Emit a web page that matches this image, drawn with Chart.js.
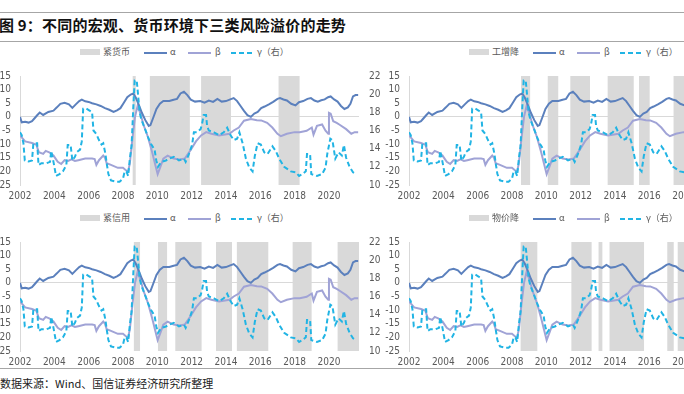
<!DOCTYPE html>
<html><head><meta charset="utf-8">
<script src="https://cdn.jsdelivr.net/npm/chart.js@4.4.1/dist/chart.umd.min.js"></script>
<style>
html,body{margin:0;padding:0;background:#fff;}
body{width:684px;height:394px;overflow:hidden;position:relative;font-family:"Noto Sans CJK SC","Noto Sans",sans-serif;}
.rule{position:absolute;left:0;width:684px;height:1px;background:#a6a6a6;}
#title{position:absolute;left:-1px;top:14px;font-size:15px;font-weight:bold;color:#111;white-space:nowrap;letter-spacing:0.2px;}
#foot{position:absolute;left:0;top:375px;font-size:11px;color:#222;white-space:nowrap;}
canvas{position:absolute;}
.lg{position:absolute;font-size:9px;color:#595959;white-space:nowrap;line-height:10px;}
.box{position:absolute;width:20px;height:6px;background:#d9d9d9;}
svg{position:absolute;overflow:visible;}
</style></head><body>
<div class="rule" style="top:12px"></div>
<div id="title">图 9：不同的宏观、货币环境下三类风险溢价的走势</div>
<div class="rule" style="top:41px"></div>
<div class="rule" style="top:368px"></div>
<div id="foot">数据来源：Wind、国信证券经济研究所整理</div>
<script>
// ---- tick labels ----
const xYears = [2002,2004,2006,2008,2010,2012,2014,2016,2018,2020];
const leftTicks = [15,10,5,0,-5,-10,-15,-20,-25];
const rightTicks = [22,20,18,16,14,12,10];

// ---- series: [year, value] ----
const alphaData = [[2002.0,0],[2002.1,-2.0],[2002.3,-1.8],[2002.5,-2.1],[2002.7,-1.6],[2002.85,-0.5],[2003.0,0.6],[2003.15,1.6],[2003.35,0.7],[2003.65,1.8],[2003.95,2.3],[2004.15,3.5],[2004.35,4.8],[2004.6,5.2],[2004.85,4.6],[2005.05,3.3],[2005.25,4.6],[2005.45,5.8],[2005.6,6.3],[2005.8,5.7],[2006.0,5.5],[2006.2,5.0],[2006.45,4.6],[2006.7,4.0],[2006.95,3.2],[2007.2,2.6],[2007.45,1.8],[2007.65,2.4],[2007.85,3.2],[2008.05,5.2],[2008.25,7.2],[2008.45,8.2],[2008.6,8.6],[2008.75,7.0],[2008.9,4.8],[2009.1,1.5],[2009.3,-1.2],[2009.5,-3.3],[2009.6,-3.0],[2009.75,-0.5],[2009.95,2.9],[2010.15,4.8],[2010.35,5.8],[2010.7,5.8],[2010.95,6.3],[2011.15,6.6],[2011.35,8.6],[2011.55,9.2],[2011.75,8.0],[2011.95,6.3],[2012.2,5.6],[2012.5,5.8],[2012.75,5.2],[2013.0,6.0],[2013.25,5.5],[2013.5,6.6],[2013.75,5.6],[2014.0,5.8],[2014.25,6.4],[2014.45,6.9],[2014.65,5.8],[2014.85,4.0],[2015.05,2.2],[2015.25,0.6],[2015.45,0.0],[2015.65,1.2],[2015.85,1.8],[2016.05,3.2],[2016.25,3.8],[2016.5,4.6],[2016.75,5.5],[2017.0,6.6],[2017.15,6.9],[2017.35,6.4],[2017.55,6.0],[2017.8,4.8],[2018.05,4.2],[2018.25,5.4],[2018.5,5.8],[2018.75,6.6],[2018.95,6.9],[2019.15,6.0],[2019.35,5.6],[2019.55,6.1],[2019.75,6.4],[2019.95,7.2],[2020.1,7.5],[2020.3,6.4],[2020.5,5.6],[2020.7,4.0],[2020.9,2.9],[2021.1,3.5],[2021.25,4.8],[2021.4,7.5],[2021.55,8.0],[2021.7,8.0]];

const betaData = [[2002.0,-6.8],[2002.1,-7.5],[2002.3,-9.0],[2002.7,-9.6],[2002.95,-10.2],[2003.1,-13.0],[2003.35,-13.6],[2003.5,-12.5],[2003.7,-13.0],[2003.95,-14.2],[2004.2,-16.5],[2004.4,-17.3],[2004.6,-15.9],[2004.8,-16.2],[2005.0,-15.6],[2005.2,-16.2],[2005.4,-15.9],[2005.8,-15.3],[2006.2,-15.3],[2006.35,-15.5],[2006.45,-17.6],[2006.6,-15.9],[2006.85,-14.2],[2006.95,-15.0],[2007.05,-17.0],[2007.3,-17.6],[2007.7,-18.7],[2008.0,-18.7],[2008.15,-19.5],[2008.3,-20.0],[2008.4,-17.0],[2008.55,-8.0],[2008.7,0.0],[2008.85,4.0],[2009.0,1.5],[2009.2,-3.0],[2009.45,-7.3],[2009.7,-13.0],[2009.9,-18.0],[2010.02,-21.0],[2010.2,-18.0],[2010.35,-15.3],[2010.6,-14.2],[2010.95,-15.3],[2011.3,-15.6],[2011.6,-15.3],[2011.8,-13.5],[2011.97,-11.9],[2012.25,-9.0],[2012.55,-6.8],[2012.85,-5.6],[2013.15,-6.2],[2013.6,-6.8],[2014.2,-6.2],[2014.45,-5.0],[2014.75,-3.9],[2015.05,-1.4],[2015.45,-0.8],[2015.8,-1.2],[2016.05,-1.3],[2016.4,-2.2],[2016.7,-3.9],[2017.0,-6.2],[2017.2,-7.1],[2017.55,-6.2],[2018.0,-5.6],[2018.3,-5.6],[2018.7,-5.1],[2019.0,-3.9],[2019.1,-6.5],[2019.3,-3.3],[2019.6,-2.8],[2019.8,-5.1],[2019.96,-6.2],[2020.0,1.5],[2020.1,1.2],[2020.25,-1.6],[2020.45,-2.2],[2020.6,-2.8],[2021.0,-4.5],[2021.3,-6.2],[2021.5,-5.6],[2021.7,-5.6]];

const gammaData = [[2002.0,15.8],[2002.1,15.5],[2002.2,14.6],[2002.28,12.7],[2002.5,12.6],[2002.7,12.7],[2002.78,14.6],[2003.0,14.6],[2003.08,12.2],[2003.25,12.4],[2003.55,12.4],[2003.75,12.55],[2003.82,13.75],[2003.95,12.55],[2004.1,11.0],[2004.3,11.2],[2004.5,11.5],[2004.7,12.2],[2004.78,14.4],[2004.95,14.4],[2005.05,12.7],[2005.2,13.1],[2005.3,13.6],[2005.5,13.9],[2005.6,14.8],[2005.68,18.4],[2005.87,18.4],[2006.05,18.2],[2006.2,18.0],[2006.28,16.0],[2006.45,15.6],[2006.6,14.95],[2006.75,14.45],[2006.85,14.6],[2006.98,13.4],[2007.05,12.4],[2007.15,11.2],[2007.3,10.5],[2007.6,10.35],[2007.8,10.35],[2008.0,10.7],[2008.1,11.5],[2008.2,11.5],[2008.3,11.0],[2008.4,12.9],[2008.5,14.3],[2008.6,18.5],[2008.68,21.5],[2008.8,21.5],[2008.87,20.1],[2008.97,18.0],[2009.07,17.2],[2009.26,16.3],[2009.45,15.3],[2009.65,14.45],[2009.84,13.9],[2009.94,12.7],[2010.04,12.0],[2010.23,12.55],[2010.5,12.7],[2010.7,12.9],[2010.96,13.1],[2011.26,12.7],[2011.55,12.9],[2011.65,12.55],[2011.84,13.4],[2012.03,14.45],[2012.13,15.8],[2012.32,15.8],[2012.52,16.15],[2012.6,16.65],[2012.7,17.7],[2012.84,17.7],[2012.9,16.5],[2013.0,16.0],[2013.3,15.8],[2013.6,15.5],[2013.87,15.8],[2014.07,16.3],[2014.26,15.5],[2014.45,14.95],[2014.65,15.1],[2014.78,15.8],[2014.97,14.6],[2015.16,12.9],[2015.36,11.9],[2015.55,11.5],[2015.68,13.2],[2015.84,14.6],[2016.03,14.45],[2016.23,13.6],[2016.42,13.4],[2016.71,14.25],[2016.9,13.75],[2017.1,12.9],[2017.39,12.0],[2017.78,11.5],[2018.07,11.4],[2018.26,11.0],[2018.46,11.2],[2018.65,11.5],[2018.72,13.4],[2018.9,13.4],[2018.97,11.2],[2019.3,11.0],[2019.6,11.2],[2019.8,11.9],[2019.9,13.4],[2020.08,15.1],[2020.2,14.95],[2020.37,12.9],[2020.56,13.6],[2020.75,13.25],[2020.87,14.4],[2021.0,13.0],[2021.2,12.0],[2021.4,11.4],[2021.6,11.2]];

// ---- shaded regimes: [start, end] ----
const tightMoney   = [[2008.55,2008.75],[2009.55,2011.9],[2012.55,2014.3],[2017.05,2018.3]];
const indDown      = [[2008.52,2009.07],[2010.07,2010.71],[2011.39,2012.55],[2013.56,2015.1],[2015.4,2016.03],[2017.4,2018.3]];
const tightCredit  = [[2008.62,2009.0],[2010.03,2010.58],[2011.04,2012.59],[2013.42,2014.35],[2014.62,2016.48],[2017.87,2019.0],[2020.49,2021.75]];
const priceDown    = [[2008.49,2009.49],[2011.45,2012.65],[2013.03,2013.28],[2013.67,2015.7],[2017.04,2017.43],[2017.64,2018.5]];

const panels = [
  {ox:0,   oy:0,   name:'紧货币', regions:tightMoney},
  {ox:389, oy:0,   name:'工增降', regions:indDown},
  {ox:0,   oy:166, name:'紧信用', regions:tightCredit},
  {ox:389, oy:166, name:'物价降', regions:priceDown}
];

const C_ALPHA = '#5b80bd', C_BETA = '#a0a3d6', C_GAMMA = '#21b4e4', C_SHADE = '#d9d9d9';
const tickFont = {family:"'Liberation Sans Narrow','DejaVu Sans Condensed',Arial,sans-serif", size:10};
const pts = arr => arr.map(([x,y]) => ({x, y}));
function shadePts(regs){
  const out = [];
  regs.forEach(([s,e]) => { out.push({x:s,y:15},{x:e,y:15},{x:e,y:null}); });
  return out;
}

function legend(p){
  const add = (html) => document.body.insertAdjacentHTML('beforeend', html);
  const L = p.ox, T = p.oy;
  add(`<div class="box" style="left:${L+80}px;top:${T+49}px"></div>`);
  add(`<div class="lg" style="left:${L+103}px;top:${T+47}px">${p.name}</div>`);
  add(`<svg style="left:${L+144}px;top:${T+52}px" width="24" height="2"><line x1="0" y1="1" x2="23" y2="1" stroke="${C_ALPHA}" stroke-width="2"/></svg>`);
  add(`<div class="lg" style="left:${L+170}px;top:${T+47}px">α</div>`);
  add(`<svg style="left:${L+188}px;top:${T+52}px" width="24" height="2"><line x1="0" y1="1" x2="23" y2="1" stroke="${C_BETA}" stroke-width="2"/></svg>`);
  add(`<div class="lg" style="left:${L+215}px;top:${T+47}px">β</div>`);
  add(`<svg style="left:${L+231}px;top:${T+52}px" width="24" height="2"><line x1="0" y1="1" x2="23" y2="1" stroke="${C_GAMMA}" stroke-width="2" stroke-dasharray="5,3"/></svg>`);
  add(`<div class="lg" style="left:${L+257}px;top:${T+47}px">γ（右）</div>`);
}

panels.forEach(p => {
  legend(p);
  const cv = document.createElement('canvas');
  cv.width = 399; cv.height = 147;
  cv.style.left = (p.ox - 10) + 'px';
  cv.style.top = (p.oy + 60) + 'px';
  document.body.appendChild(cv);
  new Chart(cv, {
    type: 'line',
    data: {
      datasets: [
        {label:'γ（右）', data: pts(gammaData), yAxisID:'y1', borderColor:C_GAMMA, borderWidth:2, borderDash:[5,3], pointRadius:0, fill:false, tension:0},
        {label:'α', data: pts(alphaData), yAxisID:'y', borderColor:C_ALPHA, borderWidth:2, pointRadius:0, fill:false, tension:0},
        {label:'β', data: pts(betaData), yAxisID:'y', borderColor:C_BETA, borderWidth:2, pointRadius:0, fill:false, tension:0},
        {label:p.name, data: shadePts(p.regions), yAxisID:'y', borderWidth:0, borderColor:'rgba(0,0,0,0)', backgroundColor:C_SHADE, pointRadius:0, fill:'start', spanGaps:false}
      ]
    },
    options: {
      responsive:false, animation:false, maintainAspectRatio:false,
      layout:{padding:{top:8,left:0,right:0,bottom:0}},
      plugins:{legend:{display:false}, tooltip:{enabled:false}, filler:{drawTime:'beforeDatasetsDraw'}},
      scales:{
        x:{type:'linear', min:2002, max:2021.75,
           afterFit: s => { s.height = 22; },
           afterBuildTicks: s => { s.ticks = xYears.map(v => ({value:v})); },
           grid:{display:false, drawTicks:false}, border:{display:false},
           ticks:{font:tickFont, color:'#595959', padding:5, maxRotation:0, autoSkip:false, callback:v => String(v)}},
        y:{position:'left', min:-25, max:15,
           afterFit: s => { s.width = 30; },
           afterBuildTicks: s => { s.ticks = leftTicks.map(v => ({value:v})); },
           grid:{drawTicks:false, color: c => c.tick && c.tick.value === 0 ? '#d9d9d9' : 'rgba(0,0,0,0)'},
           border:{display:true, color:'#d9d9d9'},
           ticks:{font:tickFont, color:'#595959', padding:9, autoSkip:false}},
        y1:{position:'right', min:10, max:22,
           afterFit: s => { s.width = 30; },
           afterBuildTicks: s => { s.ticks = rightTicks.map(v => ({value:v})); },
           grid:{display:false, drawTicks:false}, border:{display:false},
           ticks:{font:tickFont, color:'#595959', padding:10, autoSkip:false}}
      }
    }
  });
});
</script>
</body></html>
